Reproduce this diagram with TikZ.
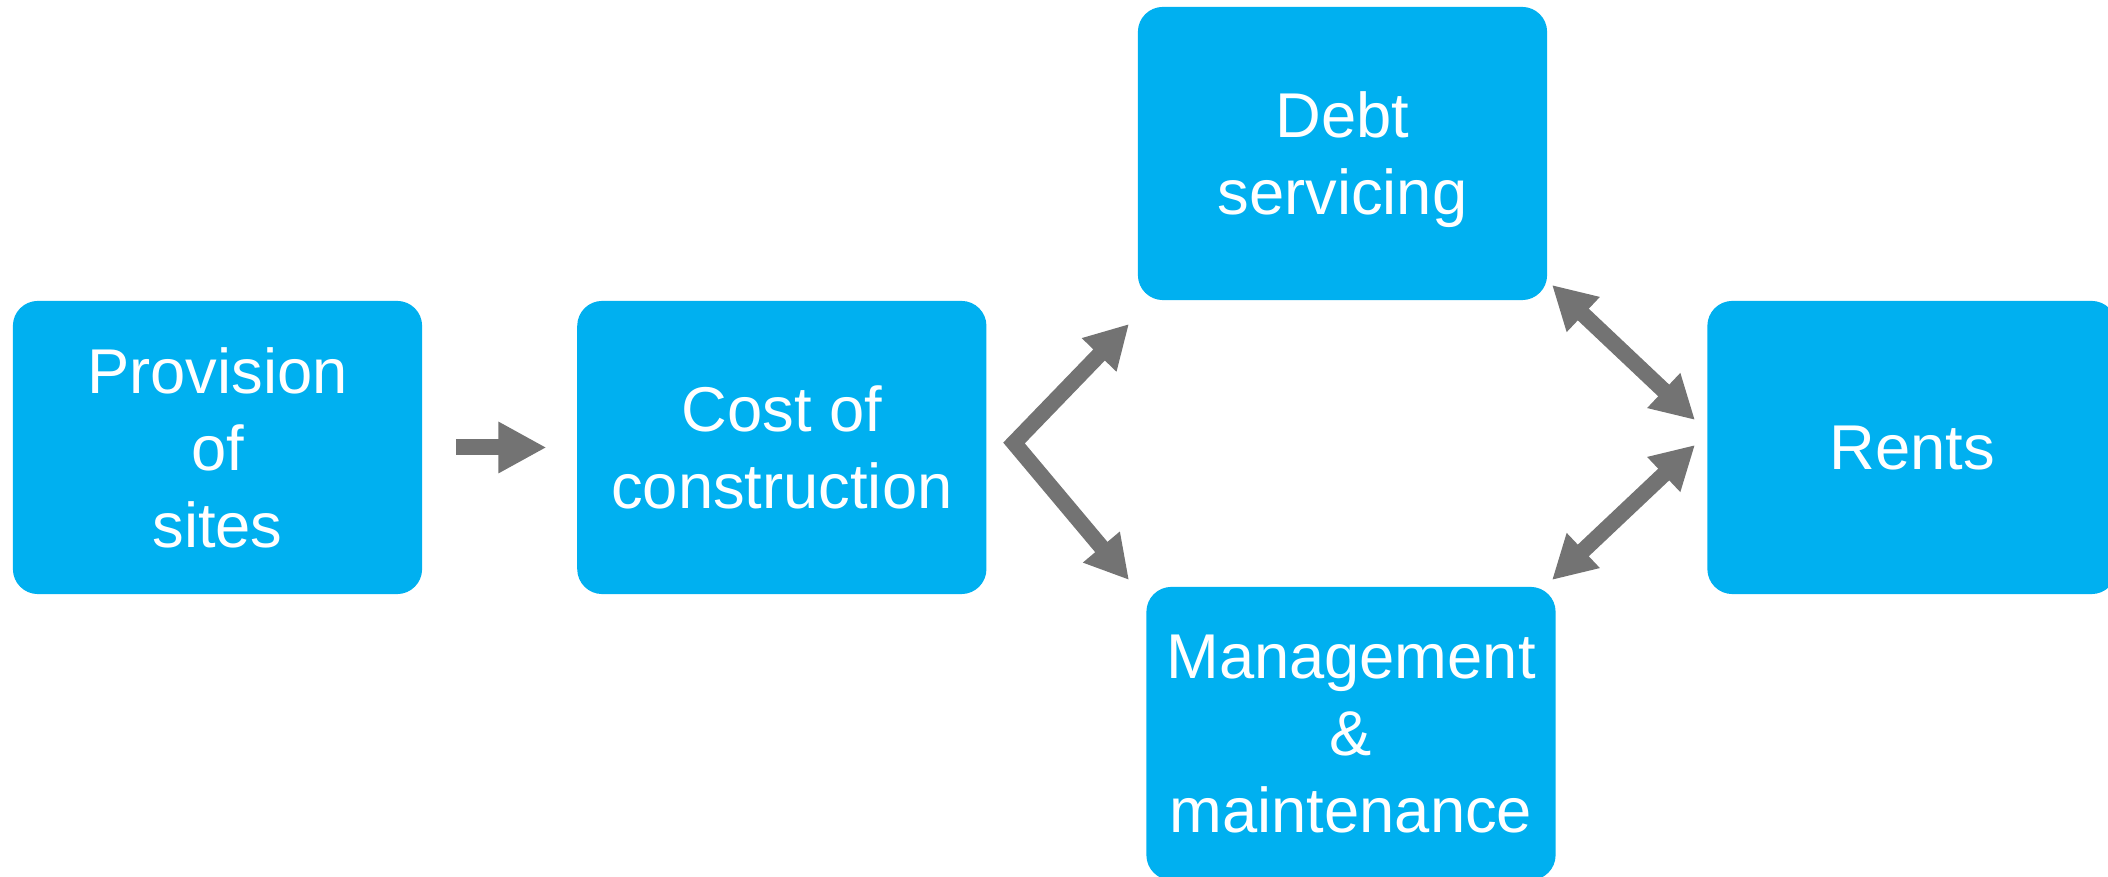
\documentclass[tikz,border=0pt]{standalone}
\usepackage{fontspec}
\setmainfont{Liberation Sans}
\usepackage[dvipsnames]{xcolor}
\usetikzlibrary{arrows.meta}
\definecolor{boxblue}{HTML}{00B0F0}
\definecolor{arrowgray}{HTML}{737373}

\begin{document}
\begin{tikzpicture}[x=0.01cm,y=-0.01cm,>={Triangle[length=0.43cm,width=0.45cm]},node distance=5.64cm,
    box/.style={rectangle,rounded corners=0.25cm,fill=boxblue,text=white,minimum width=4.09cm,minimum height=2.93cm,align=center,text depth=0pt,font=\fontsize{18}{21.9}\selectfont},
    link/.style={draw=arrowgray,line width=0.16cm,line join=miter}]

                    \useasboundingbox (0,0) rectangle (2108,877);

                    \node[box] (1) at (217.5,447.5) {Provision\\of\\sites};
                    \node[box] (2) [right of = 1] {Cost of\\construction};
                    \node[box] (3) at (1342.5,153.5) {Debt\\servicing};
                    \node[box] (4) at (1351,733.5) {Management\\\&\\maintenance};
                    \node[box] (5) [right of = 2, node distance=11.295cm] {Rents};

                    \coordinate (fork) at (1014,443);
                    \coordinate (3in) at (1129,324);
                    \coordinate (4in) at (1129,580);
                    \coordinate (3out) at (1552,285);
                    \coordinate (4out) at (1552,580);
                    \coordinate (5a) at (1695,420);
                    \coordinate (5b) at (1695,445);

                    \draw[link,-{Triangle[length=0.48cm,width=0.48cm]},shorten <=0.33cm,shorten >=0.30cm] (1) to (2);
                    \draw[link,<->] (3in) -- (fork) -- (4in);
                    \draw[link,<->] (3out) to (5a);
                    \draw[link,<->] (4out) to (5b);

                    ;
                \end{tikzpicture}
\end{document}
